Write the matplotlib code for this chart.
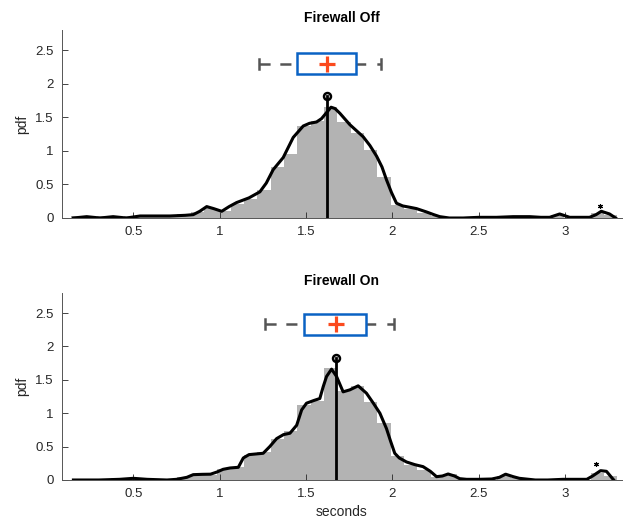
import numpy as np
import matplotlib
matplotlib.use("Agg")
import matplotlib.pyplot as plt
from matplotlib.patches import Rectangle

plt.rcParams['font.family'] = ['Liberation Sans', 'DejaVu Sans']
plt.rcParams['lines.scale_dashes'] = False

# ---------------- data ----------------
titles = ["Firewall Off", "Firewall On"]

bin_start = 0.137
bin_width = 0.0772
hist_off = [0.03, 0.0, 0.03, 0.0, 0.03, 0.03, 0.03, 0.03, 0.06, 0.09,
            0.15, 0.10, 0.21, 0.29, 0.42, 0.76, 0.95, 1.37, 1.45, 1.66,
            1.43, 1.26, 1.01, 0.61, 0.19, 0.13, 0.08, 0.03, 0.0, 0.0,
            0.0, 0.0, 0.0, 0.03, 0.0, 0.03, 0.05, 0.0, 0.0, 0.07, 0.04]
hist_on = [0.0, 0.0, 0.0, 0.03, 0.03, 0.0, 0.0, 0.0, 0.05, 0.08,
           0.08, 0.16, 0.19, 0.37, 0.42, 0.62, 0.74, 1.12, 1.19, 1.68,
           1.33, 1.41, 1.17, 0.85, 0.36, 0.22, 0.15, 0.05, 0.09, 0.03,
           0.0, 0.0, 0.06, 0.03, 0.0, 0.0, 0.0, 0.0, 0.0, 0.11, 0.06]

kde_off_x = [0.153, 0.23, 0.307, 0.383, 0.46, 0.539, 0.62, 0.712, 0.80, 0.847,
             0.885, 0.925, 0.965, 1.012, 1.055, 1.098, 1.17, 1.233, 1.27, 1.31,
             1.368, 1.426, 1.484, 1.52, 1.561, 1.59, 1.619, 1.645, 1.668, 1.696,
             1.754, 1.831, 1.87, 1.909, 1.94, 1.966, 1.995, 2.024, 2.06, 2.101,
             2.14, 2.198, 2.24, 2.275, 2.33, 2.41, 2.5, 2.603, 2.7, 2.796,
             2.86, 2.911, 2.969, 3.027, 3.09, 3.142, 3.18, 3.21, 3.258, 3.293]
kde_off_y = [0.0, 0.02, 0.0, 0.02, 0.0, 0.03, 0.03, 0.03, 0.04, 0.05,
             0.10, 0.17, 0.14, 0.10, 0.17, 0.23, 0.30, 0.39, 0.52, 0.72,
             0.90, 1.20, 1.37, 1.41, 1.43, 1.48, 1.57, 1.65, 1.63, 1.56,
             1.39, 1.21, 1.08, 0.92, 0.76, 0.57, 0.38, 0.22, 0.18, 0.16,
             0.14, 0.09, 0.05, 0.02, 0.0, 0.0, 0.01, 0.01, 0.02, 0.02,
             0.01, 0.01, 0.06, 0.01, 0.01, 0.01, 0.05, 0.10, 0.06, 0.0]

kde_on_x = [0.153, 0.3, 0.42, 0.5, 0.58, 0.695, 0.75, 0.81, 0.847, 0.9,
            0.947, 0.985, 1.02, 1.06, 1.108, 1.137, 1.17, 1.252, 1.29, 1.33,
            1.37, 1.407, 1.446, 1.475, 1.503, 1.545, 1.58, 1.60, 1.619, 1.648,
            1.677, 1.715, 1.754, 1.802, 1.85, 1.89, 1.928, 1.966, 1.99, 2.014,
            2.04, 2.082, 2.13, 2.178, 2.22, 2.256, 2.29, 2.323, 2.36, 2.39,
            2.43, 2.5, 2.576, 2.62, 2.656, 2.7, 2.736, 2.828, 2.9, 2.988,
            3.06, 3.126, 3.16, 3.206, 3.24, 3.282]
kde_on_y = [0.0, 0.0, 0.01, 0.025, 0.01, 0.0, 0.01, 0.04, 0.08, 0.085,
            0.087, 0.12, 0.16, 0.18, 0.19, 0.33, 0.38, 0.40, 0.50, 0.62,
            0.68, 0.70, 0.82, 1.05, 1.15, 1.19, 1.22, 1.40, 1.55, 1.66,
            1.55, 1.32, 1.35, 1.41, 1.30, 1.15, 1.00, 0.77, 0.58, 0.40,
            0.33, 0.27, 0.23, 0.20, 0.13, 0.05, 0.06, 0.09, 0.06, 0.02,
            0.01, 0.01, 0.015, 0.04, 0.087, 0.05, 0.025, 0.0, 0.0, 0.01,
            0.01, 0.01, 0.06, 0.14, 0.13, 0.0]

# median line (x, top marker y)
median_off = (1.619, 1.815)
median_on = (1.673, 1.82)

# boxplot stats: whisker low, q1, mean, q3, whisker high, y centre
box_off = [1.229, 1.449, 1.623, 1.787, 1.937, 2.30]
box_on = [1.262, 1.488, 1.673, 1.847, 2.009, 2.33]

# outlier star
star_off = (3.20, 0.18)
star_on = (3.18, 0.245)

yticks = [0, 0.5, 1, 1.5, 2, 2.5]
ytick_labels = ["0", "0.5", "1", "1.5", "2", "2.5"]
xticks = [0.5, 1, 1.5, 2, 2.5, 3]
xtick_labels = ["0.5", "1", "1.5", "2", "2.5", "3"]

# ---------------- plot ----------------
fig = plt.figure(figsize=(6.24, 5.2), dpi=100)
ax_top = fig.add_axes([62/624, 302/520, 560/624, 188/520])
ax_bot = fig.add_axes([62/624, 40/520, 560/624, 187/520])

gray = '#b3b3b3'
blue = '#0a62c4'
orange = '#fb4a1e'
whisk = '#555555'
axcol = '#262626'

panels = [
    (ax_top, titles[0], hist_off, kde_off_x, kde_off_y, median_off, box_off, star_off),
    (ax_bot, titles[1], hist_on, kde_on_x, kde_on_y, median_on, box_on, star_on),
]

for ax, title, hist, kx, ky, med, box, star in panels:
    edges = bin_start + bin_width * np.arange(len(hist) + 1)
    ax.stairs(hist, edges, fill=True, color=gray, lw=0, zorder=1)
    ax.plot(kx, ky, color='k', lw=2.2, zorder=3, solid_joinstyle='round')
    ax.plot([med[0], med[0]], [0, med[1]], color='k', lw=2.0, zorder=4)
    ax.plot([med[0]], [med[1]], marker='o', ms=5, mfc='none', mec='k', mew=1.8, zorder=5)
    ax.plot([star[0]], [star[1]], marker=(6, 2, 0), ms=3.5, color='k', mew=0.8, zorder=5)

    wlo, q1, mean, q3, whi, yc = box
    hh = 0.16
    ch = 0.075
    ax.add_patch(Rectangle((q1, yc - hh), q3 - q1, 2 * hh, fill=False,
                           ec=blue, lw=1.8, zorder=5))
    ax.plot([wlo, q1], [yc, yc], color=whisk, lw=1.8, dashes=(8, 7),
            dash_capstyle='butt', zorder=4)
    ax.plot([q3, whi], [yc, yc], color=whisk, lw=1.8, dashes=(7, 8),
            dash_capstyle='butt', zorder=4)
    ax.plot([wlo, wlo], [yc - ch, yc + ch], color=whisk, lw=1.8, zorder=4)
    ax.plot([whi, whi], [yc - ch, yc + ch], color=whisk, lw=1.8, zorder=4)
    ax.plot([mean], [yc], marker='+', ms=11, mew=2.3, color=orange, zorder=6)

    ax.set_xlim(0.087, 3.33)
    ax.set_ylim(0, 2.8)
    ax.set_yticks(yticks)
    ax.set_yticklabels(ytick_labels)
    ax.set_xticks(xticks)
    ax.set_xticklabels(xtick_labels)
    ax.tick_params(direction='in', length=4, width=0.6, colors=axcol,
                   labelsize=9.5, pad=6)
    for s in ['top', 'right']:
        ax.spines[s].set_visible(False)
    for s in ['left', 'bottom']:
        ax.spines[s].set_color('#555555')
        ax.spines[s].set_linewidth(0.7)
    ax.set_ylabel('pdf', fontsize=10, color=axcol, labelpad=4)
    ax.set_title(title, fontsize=10, fontweight='bold', color='k', pad=6)

ax_bot.set_xlabel('seconds', fontsize=10, color=axcol, labelpad=3)

fig.savefig('out.png', dpi=100)
